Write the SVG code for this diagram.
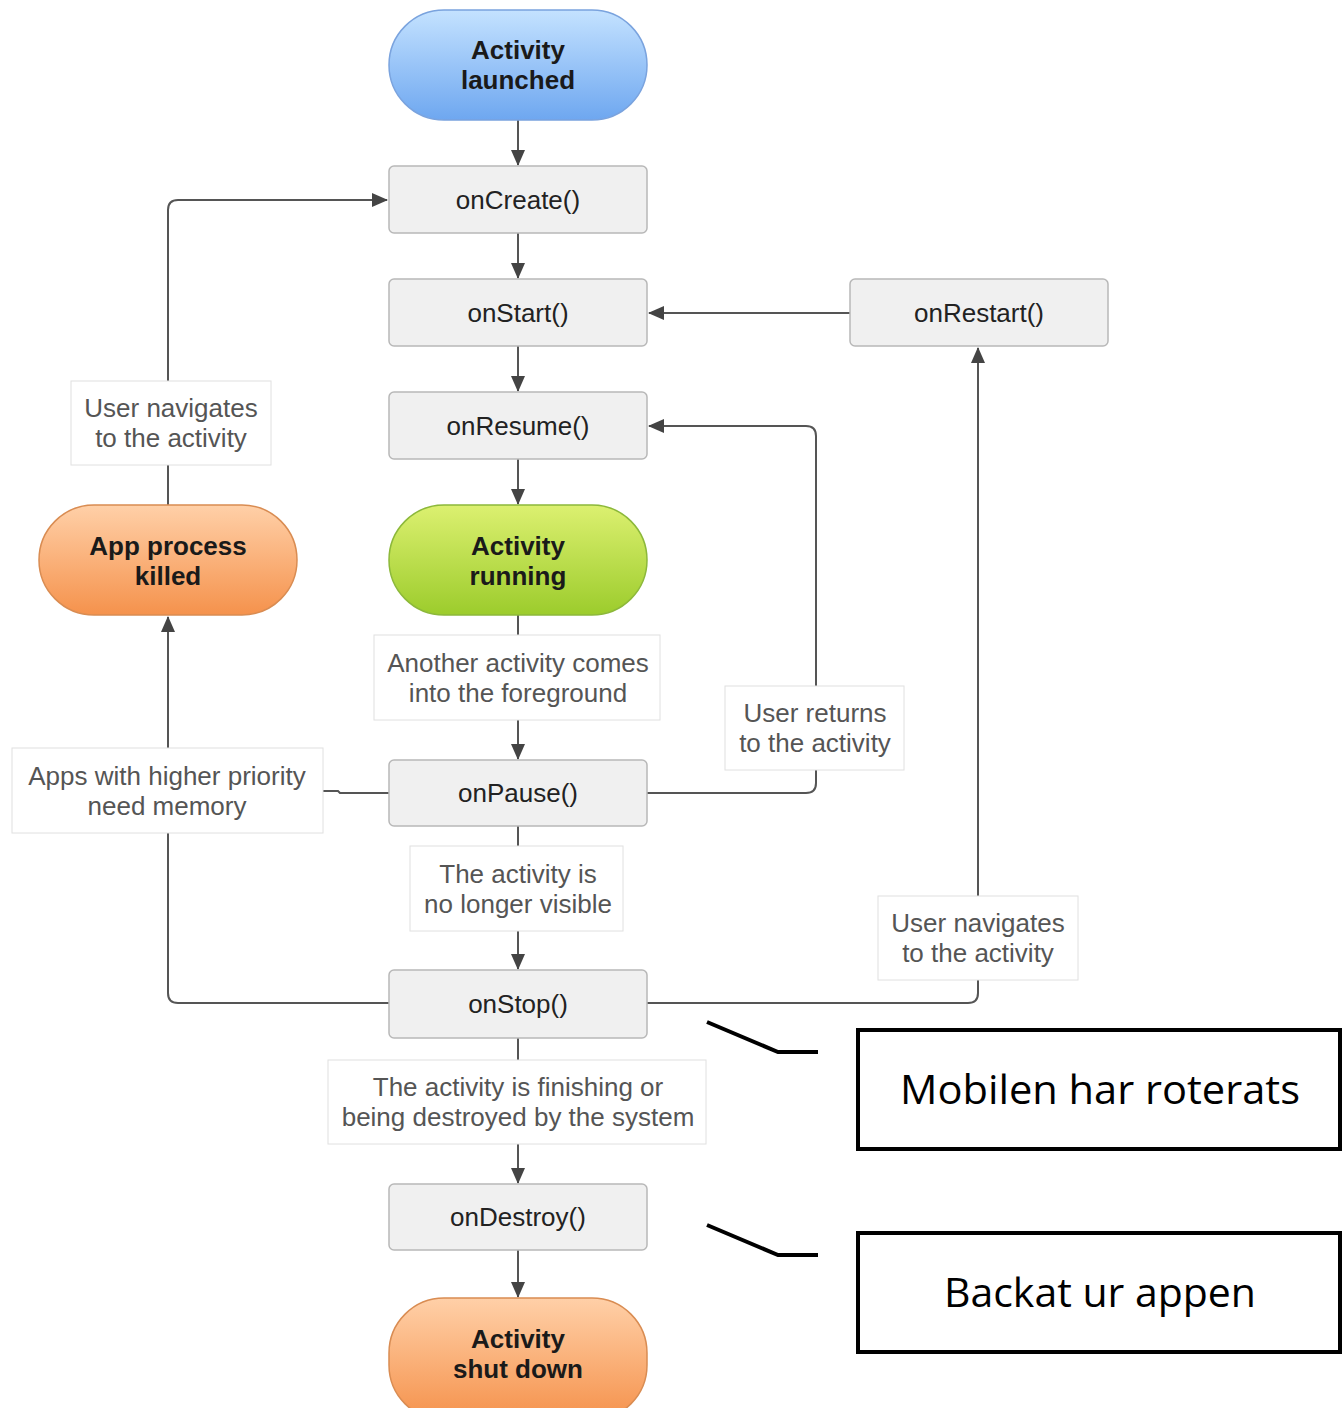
<svg xmlns="http://www.w3.org/2000/svg" width="1342" height="1408" viewBox="0 0 1342 1408">
<defs>
<linearGradient id="gBlue" x1="0" y1="0" x2="0" y2="1"><stop offset="0" stop-color="#c4e2ff"/><stop offset="1" stop-color="#6ea7f0"/></linearGradient>
<linearGradient id="gGreen" x1="0" y1="0" x2="0" y2="1"><stop offset="0" stop-color="#dcf070"/><stop offset="1" stop-color="#9ccc2c"/></linearGradient>
<linearGradient id="gOrange" x1="0" y1="0" x2="0" y2="1"><stop offset="0" stop-color="#ffd0a8"/><stop offset="1" stop-color="#f5924c"/></linearGradient>
<marker id="arr" markerUnits="userSpaceOnUse" markerWidth="16" markerHeight="16" viewBox="0 0 16 16" refX="15" refY="8" orient="auto"><path d="M0,1 L16,8 L0,15 Z" fill="#444"/></marker>
<style>
.m{fill:#f0f0f0;stroke:#b8b8b8;stroke-width:1.5}
.lb{fill:#fff;stroke:#e0e0e0;stroke-width:1}
.t{font-family:"Liberation Sans",Arial,sans-serif;font-size:26px;fill:#222;text-anchor:middle}
.b{font-family:"Liberation Sans",Arial,sans-serif;font-size:26px;font-weight:bold;fill:#1a1a1a;text-anchor:middle}
.g{font-family:"Liberation Sans",Arial,sans-serif;font-size:26px;fill:#555;text-anchor:middle}
.c{fill:none;stroke:#555;stroke-width:2}
.ca{fill:none;stroke:#555;stroke-width:2;marker-end:url(#arr)}
.an{fill:none;stroke:#000;stroke-width:4}
.ab{fill:#fff;stroke:#000;stroke-width:4}
.at{font-family:"Open Sans","Noto Sans",sans-serif;font-size:40px;fill:#000;text-anchor:middle}
</style>
</defs>
<rect width="1342" height="1408" fill="#fff"/>
<g id="connectors">
<path class="ca" d="M518,120 V165"/>
<path class="ca" d="M518,233 V278"/>
<path class="ca" d="M518,346 V391"/>
<path class="ca" d="M518,459 V504"/>
<path class="c" d="M518,615 V635"/>
<path class="ca" d="M518,720 V759"/>
<path class="c" d="M518,826 V846"/>
<path class="ca" d="M518,931 V969"/>
<path class="c" d="M518,1038 V1060"/>
<path class="ca" d="M518,1144 V1183"/>
<path class="ca" d="M518,1250 V1297"/>
<path class="ca" d="M168,505 V210 Q168,200 178,200 H387"/>
<path class="c" d="M389,1003 H178 Q168,1003 168,993 V833"/>
<path class="ca" d="M168,748 V617"/>
<path class="c" d="M389,793 H340 L338,791 H323"/>
<path class="c" d="M647,793 H806 Q816,793 816,783 V770"/>
<path class="ca" d="M816,686 V436 Q816,426 806,426 H649"/>
<path class="c" d="M647,1003 H968 Q978,1003 978,993 V980"/>
<path class="ca" d="M978,896 V348"/>
<path class="ca" d="M850,313 H649"/>
<path class="an" d="M707,1022 L778,1052 H818"/>
<path class="an" d="M707,1225 L778,1255 H818"/>
</g>
<g id="activity-launched"><rect x="389" y="10" width="258" height="110" rx="55" fill="url(#gBlue)" stroke="#7aa3de" stroke-width="1.5"/><text class="b" x="518" y="59">Activity</text><text class="b" x="518" y="89">launched</text></g>
<g id="onCreate"><rect class="m" x="389" y="166" width="258" height="67" rx="5"/><text class="t" x="518" y="209">onCreate()</text></g>
<g id="onStart"><rect class="m" x="389" y="279" width="258" height="67" rx="5"/><text class="t" x="518" y="322">onStart()</text></g>
<g id="onResume"><rect class="m" x="389" y="392" width="258" height="67" rx="5"/><text class="t" x="518" y="435">onResume()</text></g>
<g id="activity-running"><rect x="389" y="505" width="258" height="110" rx="55" fill="url(#gGreen)" stroke="#8cb83a" stroke-width="1.5"/><text class="b" x="518" y="555">Activity</text><text class="b" x="518" y="585">running</text></g>
<g id="label-foreground"><rect class="lb" x="374" y="635" width="286" height="85"/><text class="g" x="518" y="672">Another activity comes</text><text class="g" x="518" y="702">into the foreground</text></g>
<g id="onPause"><rect class="m" x="389" y="760" width="258" height="66" rx="5"/><text class="t" x="518" y="802">onPause()</text></g>
<g id="label-not-visible"><rect class="lb" x="410" y="846" width="213" height="85"/><text class="g" x="518" y="883">The activity is</text><text class="g" x="518" y="913">no longer visible</text></g>
<g id="onStop"><rect class="m" x="389" y="970" width="258" height="68" rx="5"/><text class="t" x="518" y="1013">onStop()</text></g>
<g id="label-finishing"><rect class="lb" x="328" y="1060" width="378" height="84"/><text class="g" x="518" y="1096">The activity is finishing or</text><text class="g" x="518" y="1126">being destroyed by the system</text></g>
<g id="onDestroy"><rect class="m" x="389" y="1184" width="258" height="66" rx="5"/><text class="t" x="518" y="1226">onDestroy()</text></g>
<g id="activity-shut-down"><rect x="389" y="1298" width="258" height="122" rx="55" fill="url(#gOrange)" stroke="#d98c52" stroke-width="1.5"/><text class="b" x="518" y="1348">Activity</text><text class="b" x="518" y="1378">shut down</text></g>
<g id="onRestart"><rect class="m" x="850" y="279" width="258" height="67" rx="5"/><text class="t" x="979" y="322">onRestart()</text></g>
<g id="app-process-killed"><rect x="39" y="505" width="258" height="110" rx="55" fill="url(#gOrange)" stroke="#d98c52" stroke-width="1.5"/><text class="b" x="168" y="555">App process</text><text class="b" x="168" y="585">killed</text></g>
<g id="label-user-navigates-left"><rect class="lb" x="71" y="381" width="200" height="84"/><text class="g" x="171" y="417">User navigates</text><text class="g" x="171" y="447">to the activity</text></g>
<g id="label-higher-priority"><rect class="lb" x="12" y="748" width="311" height="85"/><text class="g" x="167" y="785">Apps with higher priority</text><text class="g" x="167" y="815">need memory</text></g>
<g id="label-user-returns"><rect class="lb" x="725" y="686" width="179" height="84"/><text class="g" x="815" y="722">User returns</text><text class="g" x="815" y="752">to the activity</text></g>
<g id="label-user-navigates-right"><rect class="lb" x="878" y="896" width="200" height="84"/><text class="g" x="978" y="932">User navigates</text><text class="g" x="978" y="962">to the activity</text></g>
<g id="note-rotated"><rect class="ab" x="858" y="1030" width="482" height="119"/><text class="at" x="1100" y="1104" textLength="400" lengthAdjust="spacingAndGlyphs">Mobilen har roterats</text></g>
<g id="note-backed"><rect class="ab" x="858" y="1233" width="482" height="119"/><text class="at" x="1100" y="1307" textLength="312" lengthAdjust="spacingAndGlyphs">Backat ur appen</text></g>
</svg>
